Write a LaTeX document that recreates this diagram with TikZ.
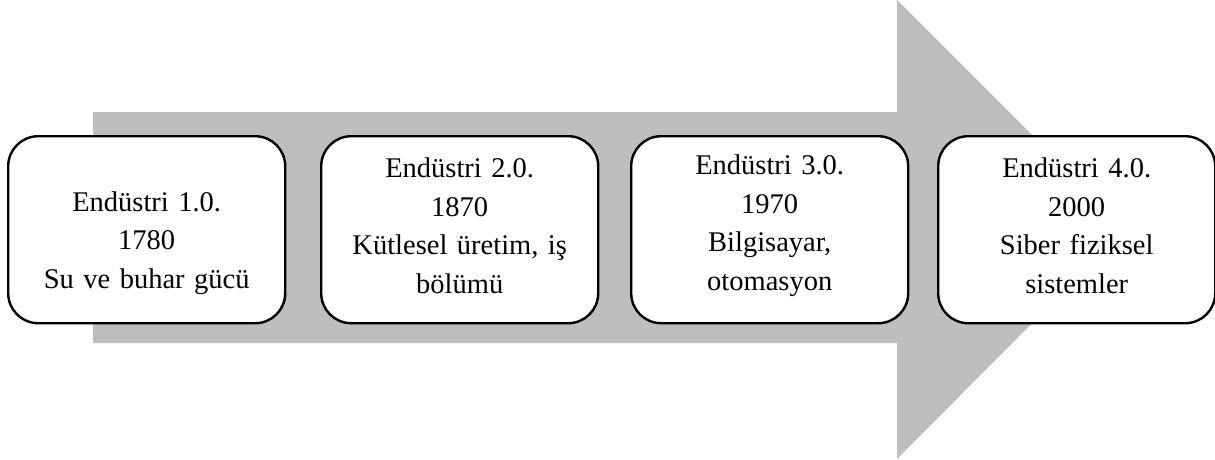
\documentclass[tikz,border=0pt]{standalone}
\usepackage{fontspec}
\setmainfont{Liberation Serif}[WordSpace=0.85]
\definecolor{arrowgray}{RGB}{188,190,192}
\begin{document}
\begin{tikzpicture}[x=1pt,y=-1pt,
  stagebox/.style={draw=black,line width=2.4pt,fill=white,rounded corners=30pt,
    minimum width=277pt,minimum height=187pt,inner sep=0pt,anchor=north west},
  stagetext/.style={align=center,font=\fontsize{28.5}{38.5}\selectfont,inner sep=0pt,text width=250pt}]
\useasboundingbox (0,0) rectangle (1215,459);
\fill[arrowgray] (93,112) -- (897,112) -- (897,0) -- (1126,229) -- (897,459) -- (897,343) -- (93,343) -- cycle;
\node[stagebox] (b1) at (7,135) {};
\node[stagebox] (b2) at (320,135) {};
\node[stagebox] (b3) at (630,135) {};
\node[stagebox] (b4) at (937,135) {};
\node[stagetext] (t1) at ([yshift=-13pt]b1.center) {Endüstri 1.0.\\1780\\Su ve buhar gücü};
\node[stagetext] (t2) at ([yshift=4pt]b2.center) {Endüstri 2.0.\\1870\\Kütlesel üretim, iş\\bölümü};
\node[stagetext] (t3) at ([yshift=4pt]b3.center) {Endüstri 3.0.\\1970\\Bilgisayar,\\otomasyon};
\node[stagetext] (t4) at ([yshift=4pt]b4.center) {Endüstri 4.0.\\2000\\Siber fiziksel\\sistemler};
\end{tikzpicture}
\end{document}
